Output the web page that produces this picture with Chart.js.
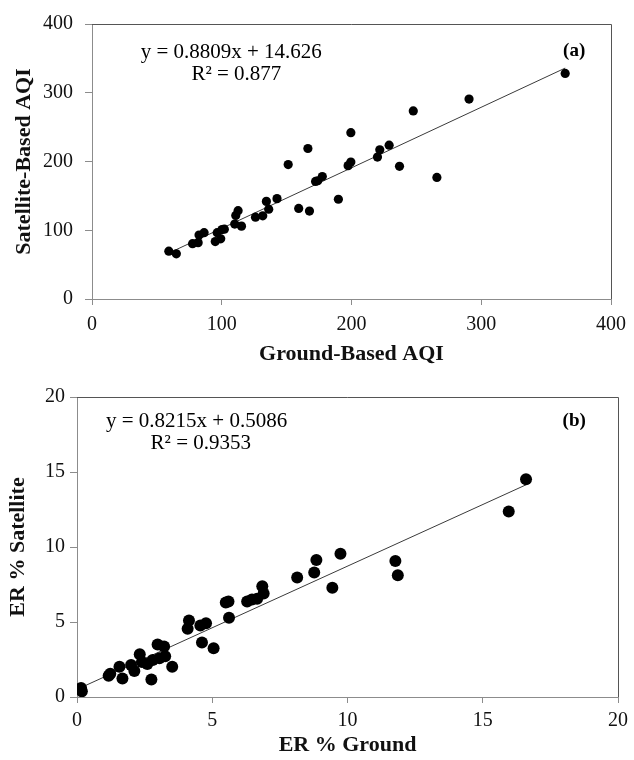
<!DOCTYPE html>
<html>
<head>
<meta charset="utf-8">
<script src="https://cdn.jsdelivr.net/npm/chart.js@4.4.1/dist/chart.umd.min.js"></script>
<style>
  html, body { margin: 0; padding: 0; background: #fff; }
  .box { position: relative; width: 634px; height: 380px; }
</style>
</head>
<body>
<div class="box"><canvas id="aqi"></canvas></div>
<div class="box"><canvas id="er"></canvas></div>
<script>
// (a) AQI values
const groundAQI = [59.2, 65, 77.5, 81.8, 82.5, 86.4, 95, 96.5, 99.2, 100.2, 102, 110, 110.8, 112.6, 115.2,
  126, 131.6, 134.4, 136.2, 142.6, 151.2, 159.3, 166.4, 167.6, 172.3, 174, 177.5, 189.9, 197.4, 199.5,
  199.5, 220, 221.8, 229, 237, 247.6, 265.8, 290.6, 364.7]
const satelliteAQI = [69.5, 65.7, 80.5, 82, 93, 96.5, 83.5, 96.5, 87.5, 101, 101.5, 109, 121.5, 128.5, 106,
  119, 121, 142, 130.6, 146, 195.6, 131.7, 218.9, 127.9, 171, 172, 178.2, 145.1, 194, 199.3,
  241.9, 206.5, 217, 223.7, 193, 273.5, 176.8, 290.8, 328.1]
const aqiSlope = 0.8809
const aqiIntercept = 14.626
const aqiTicks = [0, 100, 200, 300, 400]

// (b) ER % values
const groundER = [0.15, 0.18, 1.17, 1.23, 1.57, 1.68, 2.0, 2.12, 2.32, 2.4, 2.6, 2.75, 2.8, 2.98, 3.05,
  3.22, 3.26, 3.52, 4.09, 4.14, 4.56, 4.62, 4.77, 5.05, 5.5, 5.6, 5.62, 6.29, 6.47, 6.66,
  6.85, 6.9, 8.14, 8.77, 8.85, 9.44, 9.74, 11.77, 11.86, 15.96, 16.6]
const satelliteER = [0.6, 0.38, 1.42, 1.55, 2.02, 1.24, 2.14, 1.74, 2.85, 2.34, 2.2, 1.16, 2.47, 3.5, 2.58,
  3.36, 2.72, 2.02, 4.55, 5.1, 4.77, 3.64, 4.92, 3.25, 6.3, 6.37, 5.28, 6.36, 6.5, 6.55,
  7.38, 6.9, 7.96, 8.3, 9.13, 7.28, 9.55, 9.06, 8.11, 12.36, 14.52]
const erSlope = 0.8215
const erIntercept = 0.5086
const erTicks = [0, 5, 10, 15, 20]

const serif = '"Liberation Serif", "Times New Roman", serif'
const axisGray = '#8c8c8c'

function points(xs, ys) {
  return xs.map((x, i) => ({ x: x, y: ys[i] }))
}

function trend(xs, slope, intercept) {
  const lo = Math.min(...xs), hi = Math.max(...xs)
  return [{ x: lo, y: slope * lo + intercept }, { x: hi, y: slope * hi + intercept }]
}

// top + right frame of the plot area, and the equation texts
const framePlugin = {
  id: 'frame',
  beforeDatasetsDraw(chart) {
    const { ctx, chartArea: a } = chart
    ctx.save()
    ctx.strokeStyle = '#555'
    ctx.lineWidth = 1
    ctx.beginPath()
    ctx.moveTo(a.left, Math.round(a.top) + 0.5)
    ctx.lineTo(Math.round(a.right) + 0.5, Math.round(a.top) + 0.5)
    ctx.lineTo(Math.round(a.right) + 0.5, a.bottom)
    ctx.stroke()
    ctx.restore()
  },
  afterDatasetsDraw(chart, args, opts) {
    const { ctx, scales } = chart
    ctx.save()
    ctx.fillStyle = '#000'
    ctx.textBaseline = 'middle';
    (opts.notes || []).forEach(n => {
      ctx.font = n.font
      ctx.textAlign = n.align
      ctx.fillText(n.text, scales.x.getPixelForValue(n.x), scales.y.getPixelForValue(n.y))
    })
    ctx.restore()
  }
}

function makeChart(id, cfg) {
  return new Chart(document.getElementById(id), {
    type: 'scatter',
    data: {
      datasets: [
        {
          data: points(cfg.xs, cfg.ys),
          backgroundColor: '#000',
          borderWidth: 0,
          pointRadius: cfg.radius,
          pointHoverRadius: cfg.radius
        },
        {
          type: 'line',
          data: trend(cfg.xs, cfg.slope, cfg.intercept),
          borderColor: '#3a3a3a',
          borderWidth: 1,
          pointRadius: 0,
          fill: false
        }
      ]
    },
    options: {
      responsive: true,
      maintainAspectRatio: false,
      animation: false,
      layout: { padding: cfg.padding },
      plugins: {
        legend: { display: false },
        tooltip: { enabled: false },
        frame: { notes: cfg.notes }
      },
      scales: {
        x: {
          type: 'linear',
          min: cfg.ticks[0],
          max: cfg.ticks[cfg.ticks.length - 1],
          afterBuildTicks: s => { s.ticks = cfg.ticks.map(v => ({ value: v })) },
          afterFit: s => { s.height = cfg.xHeight },
          border: { color: axisGray, width: 1 },
          grid: { drawOnChartArea: false, tickLength: 6, color: axisGray },
          ticks: { color: '#111', padding: cfg.xTickPad, font: { family: serif, size: 20 } },
          title: {
            display: true, text: cfg.xTitle, color: '#111',
            font: { family: serif, size: 22, weight: 'bold' },
            padding: { top: 0, bottom: cfg.xTitlePad }
          }
        },
        y: {
          type: 'linear',
          min: cfg.ticks[0],
          max: cfg.ticks[cfg.ticks.length - 1],
          afterBuildTicks: s => { s.ticks = cfg.ticks.map(v => ({ value: v })) },
          afterFit: s => { s.width = cfg.yWidth },
          border: { color: axisGray, width: 1 },
          grid: { drawOnChartArea: false, tickLength: 7, color: axisGray },
          ticks: { color: '#111', padding: cfg.yTickPad, font: { family: serif, size: 20 } },
          title: {
            display: true, text: cfg.yTitle, color: '#111',
            font: { family: serif, size: 22, weight: 'bold' },
            padding: { top: cfg.yTitlePad, bottom: 0 }
          }
        }
      }
    },
    plugins: [framePlugin]
  })
}

makeChart('aqi', {
  xs: groundAQI, ys: satelliteAQI, slope: aqiSlope, intercept: aqiIntercept,
  ticks: aqiTicks, radius: 4.6,
  padding: { left: 0, right: 20, top: 21, bottom: 0 },
  yWidth: 92, xHeight: 81, xTickPad: 8, yTickPad: 12, xTitlePad: 12, yTitlePad: 11,
  xTitle: 'Ground-Based AQI', yTitle: 'Satellite-Based AQI',
  notes: [
    { text: 'y = 0.8809x + 14.626', x: 37.5, y: 358, align: 'left', font: '21px ' + serif },
    { text: 'R² = 0.877', x: 76.6, y: 326.6, align: 'left', font: '21px ' + serif },
    { text: '(a)', x: 371.6, y: 361, align: 'center', font: 'bold 19px ' + serif }
  ]
})

makeChart('er', {
  xs: groundER, ys: satelliteER, slope: erSlope, intercept: erIntercept,
  ticks: erTicks, radius: 6,
  padding: { left: 0, right: 13, top: 14, bottom: 0 },
  yWidth: 77, xHeight: 63, xTickPad: 6, yTickPad: 5, xTitlePad: 1, yTitlePad: 5,
  xTitle: 'ER % Ground', yTitle: 'ER % Satellite',
  notes: [
    { text: 'y = 0.8215x + 0.5086', x: 1.07, y: 18.4, align: 'left', font: '21px ' + serif },
    { text: 'R² = 0.9353', x: 2.72, y: 16.9, align: 'left', font: '21px ' + serif },
    { text: '(b)', x: 18.38, y: 18.4, align: 'center', font: 'bold 19px ' + serif }
  ]
})
</script>
</body>
</html>
